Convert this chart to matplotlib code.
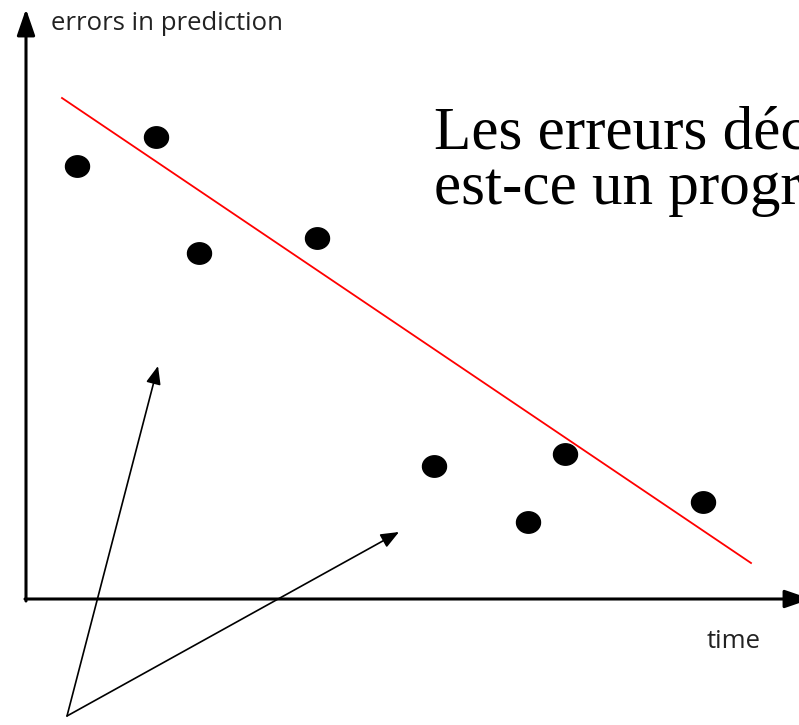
import numpy as np
import matplotlib.pyplot as plt
from matplotlib.patches import FancyArrowPatch

# observed points (time, error) in picture units
time_pts = [77, 156, 199, 317, 434, 528, 565, 703]
error_pts = [166, 137, 253, 238, 466, 522, 454, 502]

# fitted trend line end points
trend_x = [62, 751]
trend_y = [98, 563]

# annotation pointers: common tail, two heads
pointer_tail = (67, 716)
pointer_heads = [(158, 366), (399, 532)]

fig = plt.figure(figsize=(7.99, 7.25), dpi=100)
ax = fig.add_axes([0, 0, 1, 1])
ax.set_xlim(0, 799)
ax.set_ylim(725, 0)
ax.axis("off")

# axes with arrow heads
axis_arrow = dict(arrowstyle="-|>,head_length=1.6,head_width=0.55",
                  color="black", lw=2.2, shrinkA=0, shrinkB=0)
ax.annotate("", xy=(26, 9), xytext=(26, 601), arrowprops=axis_arrow,
            annotation_clip=False)
ax.annotate("", xy=(811, 599), xytext=(25, 599), arrowprops=axis_arrow,
            annotation_clip=False)

ax.text(51, 23, "errors in prediction", fontsize=18.5, family="Open Sans",
        va="center", ha="left", color="#222222")
ax.text(734, 642, "time", fontsize=18.5, family="Open Sans",
        va="center", ha="center", color="#222222")

# trend line and data points (slightly wide dots)
t = np.linspace(0, 2 * np.pi, 40)
dot = np.column_stack([1.12 * np.cos(t), np.sin(t)])
ax.plot(trend_x, trend_y, color="red", lw=1.3)
ax.scatter(time_pts, error_pts, s=300, color="black", marker=dot, zorder=3)

# pointers
for head in pointer_heads:
    arr = FancyArrowPatch(pointer_tail, head,
                          arrowstyle="-|>,head_length=11,head_width=4.5",
                          color="black", lw=1.2, shrinkA=0, shrinkB=0,
                          mutation_scale=1)
    ax.add_patch(arr)

ax.text(434, 148, "Les erreurs décroissent :", fontsize=44,
        family="Liberation Serif", va="baseline", ha="left")
ax.text(434, 204, "est-ce un progrès ?", fontsize=44,
        family="Liberation Serif", va="baseline", ha="left")

fig.savefig("out.png", dpi=100)
